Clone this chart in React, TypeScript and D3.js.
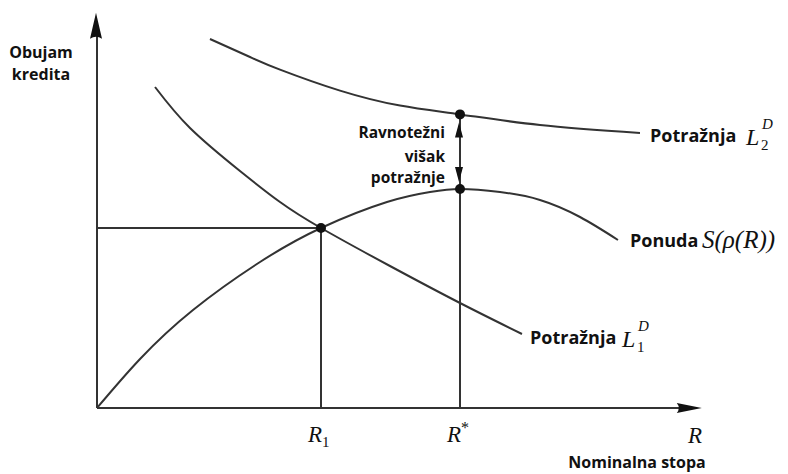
import React from "react";
import * as d3 from "d3";

// curve data in abstract units (x: nominal rate, y: credit volume), 0..100
const supplyR = [0, 7.17, 16, 27.17, 37.33, 48.33, 55.5, 60.5, 67.17, 73.83, 80.5, 86.83];
const supplyQ = [0, 12.25, 24.5, 36.5, 45, 51.5, 54, 54.75, 54, 52, 47.75, 42];

const demand1R = [9.67, 15.5, 23.83, 30.5, 37.33, 48.83, 60.5, 70.83];
const demand1Q = [80.25, 70, 59.25, 51.5, 45, 35.5, 26.25, 18.5];

const demand2R = [18.83, 25.5, 30.5, 40.5, 50.5, 60.5, 73.83, 90.5];
const demand2Q = [92.25, 87.75, 84.6, 79.35, 75.6, 73.4, 70.75, 68.75];

const R1 = 37.33;
const Q1 = 45;
const Rstar = 60.5;
const QsStar = 54.75;
const QdStar = 73.4;

const width = 788;
const height = 474;
const ink = "#333";

const serif = "'Liberation Serif', 'DejaVu Serif', serif";
const sans = "'Open Sans', 'Noto Sans', sans-serif";

const App = () => {
  const x = d3.scaleLinear().domain([0, 100]).range([97, 697]);
  const y = d3.scaleLinear().domain([0, 100]).range([408, 8]);

  const line = d3
    .line<[number, number]>()
    .x((d) => x(d[0]))
    .y((d) => y(d[1]))
    .curve(d3.curveNatural);

  const zip = (a: number[], b: number[]) => a.map((v, i) => [v, b[i]] as [number, number]);

  const x0 = x(0);
  const y0 = y(0);
  const yTip = y(98.8);
  const xTip = x(100.8);

  // double arrow between the two points at R*
  const ax = x(Rstar) - 1;
  const aTop = y(QdStar) + 8;
  const aBot = y(QsStar) - 7;

  return (
    <svg width={width} height={height} style={{ position: "absolute", left: 0, top: 0 }}>
      <rect width={width} height={height} fill="#fff" />
      {/* axes */}
      <line x1={x0} y1={y0} x2={x0} y2={yTip + 10} stroke={ink} strokeWidth={2} />
      <line x1={x0} y1={y0} x2={xTip - 10} y2={y0} stroke={ink} strokeWidth={2} />
      <path
        d={`M${x0 - 1},${yTip} L${x0 + 5},${yTip + 26} Q${x0 - 1},${yTip + 22} ${x0 - 7},${yTip + 26} Z`}
        fill="#111"
      />
      <path
        d={`M${xTip},${y0} L${xTip - 25},${y0 - 5} Q${xTip - 21},${y0} ${xTip - 25},${y0 + 5} Z`}
        fill="#111"
      />

      {/* guide lines */}
      <line x1={x0} y1={y(Q1)} x2={x(R1)} y2={y(Q1)} stroke={ink} strokeWidth={2} />
      <line x1={x(R1)} y1={y(Q1)} x2={x(R1)} y2={y0} stroke={ink} strokeWidth={2} />
      <line x1={x(Rstar)} y1={y(QdStar)} x2={x(Rstar)} y2={y0} stroke={ink} strokeWidth={2} />

      {/* curves */}
      <path d={line(zip(supplyR, supplyQ)) || ""} fill="none" stroke={ink} strokeWidth={2} />
      <path d={line(zip(demand1R, demand1Q)) || ""} fill="none" stroke={ink} strokeWidth={2} />
      <path d={line(zip(demand2R, demand2Q)) || ""} fill="none" stroke={ink} strokeWidth={2} />

      {/* excess demand arrow */}
      <path d={`M${ax},${aTop} L${ax + 4},${aTop + 15} L${ax - 4},${aTop + 15} Z`} fill="#111" />
      <path d={`M${ax},${aBot} L${ax + 4},${aBot - 15} L${ax - 4},${aBot - 15} Z`} fill="#111" />

      {/* points */}
      <circle cx={x(R1)} cy={y(Q1)} r={5} fill="#111" />
      <circle cx={x(Rstar)} cy={y(QsStar)} r={5} fill="#111" />
      <circle cx={x(Rstar)} cy={y(QdStar)} r={5} fill="#111" />

      {/* labels */}
      <g fontFamily={sans} fontWeight={700} fill="#111">
        <text x={41} y={58} fontSize={16} textAnchor="middle">Obujam</text>
        <text x={41} y={80} fontSize={16} textAnchor="middle">kredita</text>
        <text x={637} y={468} fontSize={16} textAnchor="middle">Nominalna stopa</text>
        <text x={445} y={138} fontSize={15.5} textAnchor="end">Ravnotežni</text>
        <text x={445} y={162} fontSize={15.5} textAnchor="end">višak</text>
        <text x={445} y={183} fontSize={15.5} textAnchor="end">potražnje</text>
        <text x={650} y={142} fontSize={18}>Potražnja</text>
        <text x={630} y={247} fontSize={18}>Ponuda</text>
        <text x={530} y={344} fontSize={18}>Potražnja</text>
      </g>

      <g fontFamily={serif} fontStyle="italic" fill="#111">
        <text x={688} y={443} fontSize={23}>R</text>
        <text x={308} y={442} fontSize={23}>
          R<tspan fontStyle="normal" fontSize={15} dy={5}>1</tspan>
        </text>
        <text x={447} y={442} fontSize={23}>
          R<tspan fontStyle="normal" fontSize={16} dy={-9}>*</tspan>
        </text>
        <text x={746} y={145} fontSize={24}>L</text>
        <text x={761} y={150} fontSize={15} fontStyle="normal">2</text>
        <text x={762} y={129} fontSize={15}>D</text>
        <text x={702} y={248} fontSize={25}>S(ρ(R))</text>
        <text x={622} y={347} fontSize={24}>L</text>
        <text x={637} y={352} fontSize={15} fontStyle="normal">1</text>
        <text x={638} y={331} fontSize={15}>D</text>
      </g>
    </svg>
  );
};

export default App;
